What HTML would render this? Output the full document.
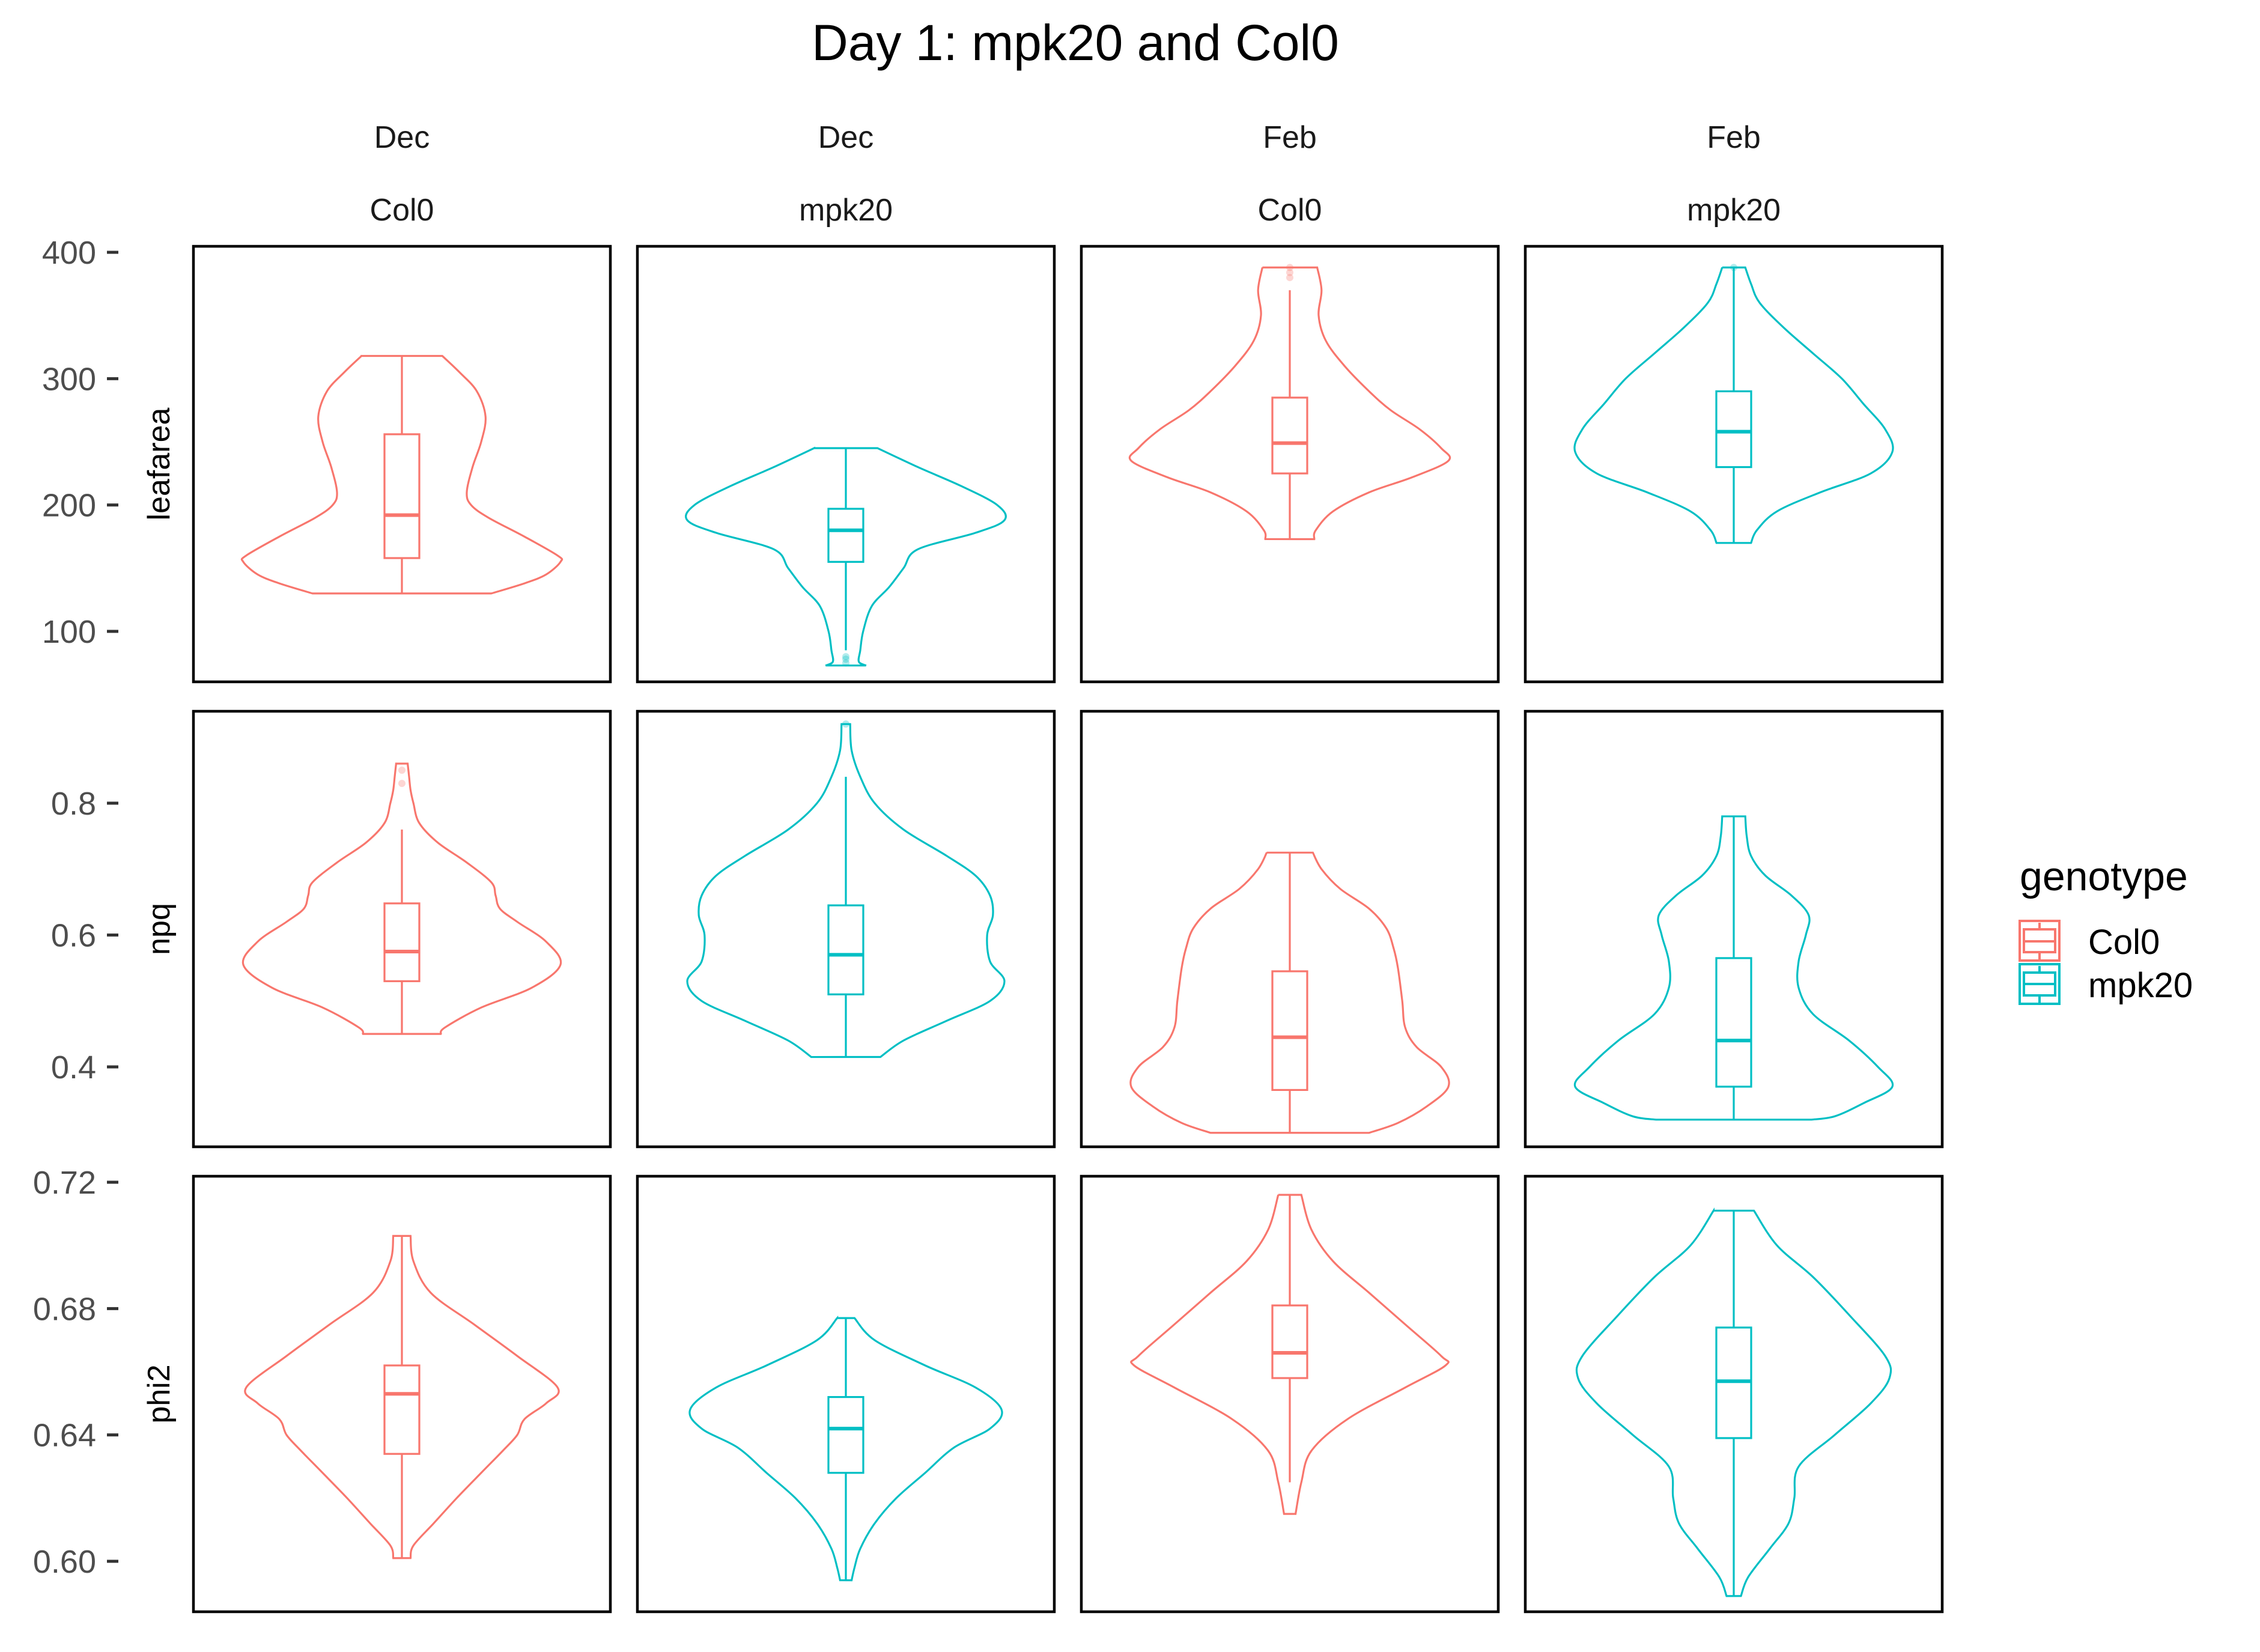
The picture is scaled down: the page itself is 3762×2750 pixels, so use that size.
<!DOCTYPE html>
<html><head><meta charset="utf-8"><style>
html,body{margin:0;padding:0;background:#fff;}
svg{display:block;font-family:"Liberation Sans",sans-serif;}
</style></head><body>
<svg id="c" width="3762" height="2750" viewBox="0 0 3762 2750" xmlns="http://www.w3.org/2000/svg">
<text x="1790" y="100" font-size="84" text-anchor="middle" fill="#000">Day 1: mpk20 and Col0</text>
<g>
<text x="3362" y="1482" font-size="68" fill="#000">genotype</text>
<g>
<rect x="3362" y="1533" width="66" height="66" fill="none" stroke="#F8766D" stroke-width="4"/>
<rect x="3369" y="1547" width="52" height="38" fill="none" stroke="#F8766D" stroke-width="4"/>
<line x1="3369" y1="1567" x2="3421" y2="1567" stroke="#F8766D" stroke-width="4"/>
<line x1="3395" y1="1536" x2="3395" y2="1547" stroke="#F8766D" stroke-width="4"/>
<line x1="3395" y1="1585" x2="3395" y2="1597" stroke="#F8766D" stroke-width="4"/>
<text x="3476" y="1588" font-size="58" fill="#000">Col0</text></g>
<g>
<rect x="3362" y="1605" width="66" height="66" fill="none" stroke="#00BFC4" stroke-width="4"/>
<rect x="3369" y="1619" width="52" height="38" fill="none" stroke="#00BFC4" stroke-width="4"/>
<line x1="3369" y1="1638" x2="3421" y2="1638" stroke="#00BFC4" stroke-width="4"/>
<line x1="3395" y1="1608" x2="3395" y2="1619" stroke="#00BFC4" stroke-width="4"/>
<line x1="3395" y1="1657" x2="3395" y2="1669" stroke="#00BFC4" stroke-width="4"/>
<text x="3476" y="1660" font-size="58" fill="#000">mpk20</text></g>
</g>
</svg>
<script>
const months=["Dec","Dec","Feb","Feb"];
const genotypes=["Col0","mpk20","Col0","mpk20"];
const rowVars=["leafarea","npq","phi2"];
const yTicksLeaf=[100,200,300,400];
const yTicksNpq=[0.4,0.6,0.8];
const yTicksPhi=[0.60,0.64,0.68,0.72];
const yTickLabelsLeaf=["100","200","300","400"];
const yTickLabelsNpq=["0.4","0.6","0.8"];
const yTickLabelsPhi=["0.60","0.64","0.68","0.72"];
// violin profiles: [value, half-width]
const vLeafDecCol=[[318,28],[305,40],[290,52],[270,58],[250,55],[230,49],[210,45],[200,48],[190,60],[175,85],[160,108],[155,110],[145,100],[138,85],[130,62]];
const vLeafDecMpk=[[245,22],[230,50],[215,80],[200,105],[188,110],[178,90],[165,50],[150,40],[135,30],[120,18],[100,12],[85,10],[76,9],[73,14]];
const vLeafFebCol=[[388,19],[370,22],[350,20],[330,25],[310,38],[290,55],[275,70],[260,90],[245,105],[235,110],[222,85],[210,55],[195,30],[180,18],[173,17]];
const vLeafFebMpk=[[388,8],[375,12],[360,18],[340,35],[320,55],[300,75],[280,90],[260,105],[242,110],[225,95],[210,60],[195,30],[180,16],[170,12]];
const vNpqDecCol=[[0.86,4],[0.84,5],[0.82,6],[0.80,8],[0.77,12],[0.74,25],[0.71,45],[0.68,62],[0.66,65],[0.64,68],[0.62,80],[0.59,100],[0.555,110],[0.52,90],[0.49,55],[0.46,30],[0.45,27]];
const vNpqDecMpk=[[0.92,3],[0.88,4],[0.84,10],[0.80,20],[0.76,40],[0.72,70],[0.69,90],[0.66,100],[0.63,102],[0.60,98],[0.56,100],[0.53,110],[0.50,100],[0.47,70],[0.44,40],[0.415,24]];
const vNpqFebCol=[[0.725,16],[0.70,22],[0.67,35],[0.64,55],[0.61,67],[0.58,72],[0.55,75],[0.50,78],[0.46,80],[0.43,88],[0.40,105],[0.37,110],[0.34,95],[0.315,75],[0.30,55]];
const vNpqFebMpk=[[0.78,8],[0.75,9],[0.72,12],[0.69,22],[0.66,40],[0.63,52],[0.60,50],[0.56,45],[0.52,45],[0.48,55],[0.44,80],[0.40,100],[0.37,110],[0.345,90],[0.325,70],[0.32,54]];
const vPhiDecCol=[[0.703,6],[0.695,8],[0.685,20],[0.675,50],[0.665,80],[0.655,108],[0.650,100],[0.645,85],[0.640,80],[0.635,70],[0.628,55],[0.620,38],[0.612,22],[0.605,8],[0.601,6]];
const vPhiDecMpk=[[0.677,6],[0.670,20],[0.662,55],[0.655,90],[0.648,108],[0.642,100],[0.636,75],[0.628,55],[0.620,35],[0.612,20],[0.604,10],[0.598,6],[0.594,4]];
const vPhiFebCol=[[0.716,8],[0.705,15],[0.695,30],[0.685,55],[0.675,80],[0.665,105],[0.662,108],[0.655,80],[0.645,40],[0.635,15],[0.625,8],[0.615,4]];
const vPhiFebMpk=[[0.711,14],[0.700,30],[0.690,55],[0.678,80],[0.665,105],[0.658,108],[0.650,95],[0.640,70],[0.630,45],[0.620,42],[0.612,38],[0.604,25],[0.595,10],[0.589,5]];
// boxes: [lowWhisker, q1, median, q3, highWhisker]
const boxLeaf=[[130,158,192,256,318],[85,155,180,197,245],[173,225,249,285,370],[170,230,258,290,388]];
const boxNpq=[[0.45,0.53,0.575,0.648,0.76],[0.415,0.51,0.57,0.645,0.84],[0.30,0.365,0.445,0.545,0.725],[0.32,0.37,0.44,0.565,0.78]];
const boxPhi=[[0.601,0.634,0.653,0.662,0.703],[0.594,0.628,0.642,0.652,0.677],[0.625,0.658,0.666,0.681,0.716],[0.589,0.639,0.657,0.674,0.711]];
const outLeaf=[[],[75,78,80],[380,384,388],[388]];
const outNpq=[[0.83,0.85],[0.92],[],[]];
const outPhi=[[],[],[],[]];

const svg=document.getElementById('c');
const NS="http://www.w3.org/2000/svg";
const colL=[322,1061,1800,2539], PW=694;
const rowT=[410,1184,1958], PH=725;
const yRef=[[400,420,100,1051],[0.8,1337,0.4,1776],[0.72,1968,0.60,2599]];
const colors=["#F8766D","#00BFC4","#F8766D","#00BFC4"];
function yScale(r,v){const a=yRef[r];return a[1]+(v-a[0])*(a[3]-a[1])/(a[2]-a[0]);}
function wScale(w){return w*2.4;}
function mk(tag,attrs,parent){const e=document.createElementNS(NS,tag);for(const k in attrs)e.setAttribute(k,attrs[k]);(parent||svg).appendChild(e);return e;}
function smooth(pts){let d="M"+pts[0][0]+","+pts[0][1];for(let i=0;i<pts.length-1;i++){const p0=pts[Math.max(0,i-1)],p1=pts[i],p2=pts[i+1],p3=pts[Math.min(pts.length-1,i+2)];const c1=[p1[0]+(p2[0]-p0[0])/6,p1[1]+(p2[1]-p0[1])/6],c2=[p2[0]-(p3[0]-p1[0])/6,p2[1]-(p3[1]-p1[1])/6];d+=" C"+c1[0].toFixed(1)+","+c1[1].toFixed(1)+" "+c2[0].toFixed(1)+","+c2[1].toFixed(1)+" "+p2[0].toFixed(1)+","+p2[1].toFixed(1);}return d;}
const violins=[[vLeafDecCol,vLeafDecMpk,vLeafFebCol,vLeafFebMpk],[vNpqDecCol,vNpqDecMpk,vNpqFebCol,vNpqFebMpk],[vPhiDecCol,vPhiDecMpk,vPhiFebCol,vPhiFebMpk]];
const boxes=[boxLeaf,boxNpq,boxPhi];
const outs=[outLeaf,outNpq,outPhi];
const ticks=[yTicksLeaf,yTicksNpq,yTicksPhi];
const tickLabels=[yTickLabelsLeaf,yTickLabelsNpq,yTickLabelsPhi];
for(let c=0;c<4;c++){const cx=colL[c]+PW/2;
 let t=mk('text',{x:cx,y:246,'font-size':52,'text-anchor':'middle',fill:'#1a1a1a'});t.textContent=months[c];
 
 
 t=mk('text',{x:cx,y:367,'font-size':52,'text-anchor':'middle',fill:'#1a1a1a'});t.textContent=genotypes[c];
 
 
}
for(let r=0;r<3;r++){
 const ax=mk('g',{});
 
 
 ticks[r].forEach((v,i)=>{const y=yScale(r,v);
  mk('line',{x1:178,x2:197,y1:y,y2:y,stroke:'#333','stroke-width':5},ax);
  const t=mk('text',{x:160,y:y+19,'font-size':54,'text-anchor':'end',fill:'#4d4d4d'},ax);t.textContent=tickLabels[r][i];});
 const cy=rowT[r]+PH/2;
 const tt=mk('text',{x:282,y:cy,'font-size':52,'text-anchor':'middle',fill:'#000',transform:'rotate(-90 282 '+cy+')'});
 tt.textContent=rowVars[r];
 
 
 for(let c=0;c<4;c++){
  const g=mk('g',{});
  
  
  const cx=colL[c]+PW/2,col=colors[c];
  const prof=violins[r][c];
  const right=prof.map(p=>[cx+wScale(p[1]),yScale(r,p[0])]);
  const left=prof.slice().reverse().map(p=>[cx-wScale(p[1]),yScale(r,p[0])]);
  const top=yScale(r,prof[0][0]);
  let d="M"+(cx-wScale(prof[0][1]))+","+top+" L"+right[0][0]+","+top+" "+smooth(right).replace(/^M[^C]*/,'');
  d+=" L"+left[0][0]+","+left[0][1]+" "+smooth(left).replace(/^M[^C]*/,'')+" Z";
  const vp=mk('path',{d:d,fill:'none',stroke:col,'stroke-width':3.2},g);
  
  
  const b=boxes[r][c],bw=29;
  const bg=mk('g',{stroke:col,fill:'none','stroke-width':3.2},g);
  
  
  mk('line',{x1:cx,x2:cx,y1:yScale(r,b[0]),y2:yScale(r,b[1])},bg);
  mk('line',{x1:cx,x2:cx,y1:yScale(r,b[3]),y2:yScale(r,b[4])},bg);
  mk('rect',{x:cx-bw,y:yScale(r,b[3]),width:2*bw,height:yScale(r,b[1])-yScale(r,b[3])},bg);
  mk('line',{x1:cx-bw,x2:cx+bw,y1:yScale(r,b[2]),y2:yScale(r,b[2]),'stroke-width':6},bg);
  outs[r][c].forEach(v=>{const o=mk('circle',{cx:cx,cy:yScale(r,v),r:6,fill:col,'fill-opacity':0.3,stroke:'none'},g);
   
   });
  const pr=mk('rect',{x:colL[c],y:rowT[r],width:PW,height:PH,fill:'none',stroke:'#000','stroke-width':4.5},g);
  
  
 }
}
</script>
</body></html>
